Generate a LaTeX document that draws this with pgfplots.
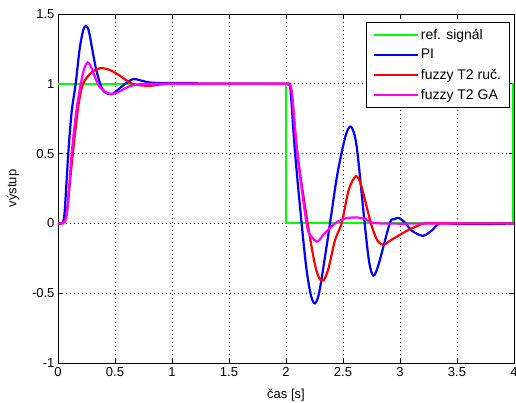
\documentclass[border=0pt]{standalone}
\usepackage{pgfplots}
\pgfplotsset{compat=1.18}
\usepackage{fontspec}
\setmainfont{Liberation Sans}
\definecolor{mgreen}{rgb}{0,1,0}
\definecolor{mblue}{rgb}{0,0,1}
\definecolor{mred}{rgb}{1,0,0}
\definecolor{mmag}{rgb}{1,0,1}
\begin{document}
\begin{tikzpicture}
\begin{axis}[
  scale only axis,
  width=456pt, height=349pt,
  xmin=0, xmax=4, ymin=-1, ymax=1.5,
  xtick={0,0.5,1,1.5,2,2.5,3,3.5,4},
  xticklabels={0,0.5,1,1.5,2,2.5,3,3.5,4},
  ytick={-1,-0.5,0,0.5,1,1.5},
  yticklabels={-1,-0.5,0,0.5,1,1.5},
  tick align=inside,
  major tick length=5pt,
  tick style={black, line width=0.6pt},
  axis line style={line width=0.8pt},
  grid=major,
  grid style={black, line width=0.7pt, dash pattern=on 0.8pt off 3.2pt},
  ticklabel style={font=\fontsize{13}{15}\selectfont},
  xticklabel style={yshift=-1pt},
  xlabel={čas [s]},
  ylabel={výstup},
  every axis x label/.style={at={(rel axis cs:0.5,0)}, anchor=center, yshift=-32pt, font=\fontsize{13}{15}\selectfont},
  every axis y label/.style={at={(rel axis cs:0,0.5)}, anchor=center, rotate=90, yshift=45pt, font=\fontsize{13}{15}\selectfont},
  legend style={at={(rel axis cs:0.991,0.977)}, anchor=north east, draw=black, line width=0.8pt, fill=white,
    font=\fontsize{14}{16}\selectfont, inner xsep=7pt, inner ysep=5pt, row sep=5.5pt,
    nodes={inner sep=1.5pt}},
  legend cell align=left,
  legend image code/.code={\draw[#1, line width=2.2pt] (0pt,0pt) -- (44pt,0pt);},
  every axis plot/.append style={line width=2.2pt},
]
% referencny signal
\addplot[mgreen, sharp plot] coordinates {
(0,1) (2,1) (2,0) (3.995,0) (3.995,1) (4,1)
};
% PI
\addplot[mblue, smooth, tension=0.5] coordinates {
(0,0) (0.03,0) (0.045,0.01) (0.06,0.1) (0.09,0.5) (0.12,0.8) (0.155,1.0) (0.19,1.25) (0.22,1.38)
(0.245,1.415) (0.27,1.38) (0.3,1.25) (0.33,1.12) (0.37,1.0) (0.41,0.94) (0.47,0.926)
(0.53,0.96) (0.59,1.0) (0.66,1.034) (0.72,1.025) (0.8,1.01) (0.9,1.006) (1.2,1.005)
(1.25,1) (1.6,1) (1.98,1) (2.02,0.995)
(2.04,0.95) (2.08,0.5) (2.137,0) (2.18,-0.33) (2.22,-0.52) (2.254,-0.573) (2.29,-0.5)
(2.34,-0.25) (2.386,0) (2.45,0.35) (2.52,0.62) (2.57,0.693) (2.62,0.55) (2.69,0)
(2.73,-0.28) (2.766,-0.374) (2.81,-0.3) (2.91,0) (2.95,0.03) (2.994,0.038) (3.05,0.0)
(3.1,-0.05) (3.2,-0.089) (3.28,-0.05) (3.35,0) (3.5,-0.004) (3.8,-0.004) (4,0)
};
% fuzzy T2 rucne
\addplot[mred, smooth, tension=0.5] coordinates {
(0,0) (0.035,0) (0.055,0.01) (0.08,0.1) (0.13,0.5) (0.18,0.85) (0.22,1.0) (0.28,1.07) (0.33,1.1)
(0.38,1.113) (0.45,1.1) (0.52,1.07) (0.6,1.025) (0.65,1.0) (0.72,0.99) (0.8,0.985)
(0.9,0.995) (1.0,1) (1.5,1) (1.98,1) (2.025,0.995)
(2.05,0.94) (2.1,0.5) (2.19,0) (2.25,-0.28) (2.29,-0.39) (2.327,-0.41) (2.37,-0.33)
(2.43,-0.12) (2.488,0) (2.55,0.24) (2.614,0.338) (2.66,0.27) (2.745,0) (2.8,-0.12)
(2.854,-0.153) (2.92,-0.12) (3.06,-0.053) (3.15,-0.02) (3.23,0) (3.6,0) (4,0)
};
% fuzzy T2 GA
\addplot[mmag, smooth, tension=0.5] coordinates {
(0,0) (0.035,0) (0.055,0.01) (0.08,0.08) (0.12,0.5) (0.16,0.8) (0.2,1.0) (0.23,1.11) (0.26,1.153)
(0.29,1.12) (0.35,1.0) (0.4,0.95) (0.47,0.926) (0.55,0.95) (0.62,0.98) (0.7,0.995)
(0.8,1) (1.5,1) (1.98,1) (2.025,0.995)
(2.05,0.94) (2.1,0.5) (2.18,0) (2.22,-0.09) (2.275,-0.13) (2.33,-0.08) (2.43,0)
(2.52,0.035) (2.62,0.043) (2.7,0.03) (2.82,0) (3.5,0) (4,0)
};
\addlegendentry{ref. signál}
\addlegendentry{PI}
\addlegendentry{fuzzy T2 ruč.}
\addlegendentry{fuzzy T2 GA}
\end{axis}
\pgfresetboundingbox
\path[use as bounding box] ([shift={(-58pt,-40pt)}]current axis.south west) rectangle ([shift={(2pt,14pt)}]current axis.north east);
\end{tikzpicture}
\end{document}
